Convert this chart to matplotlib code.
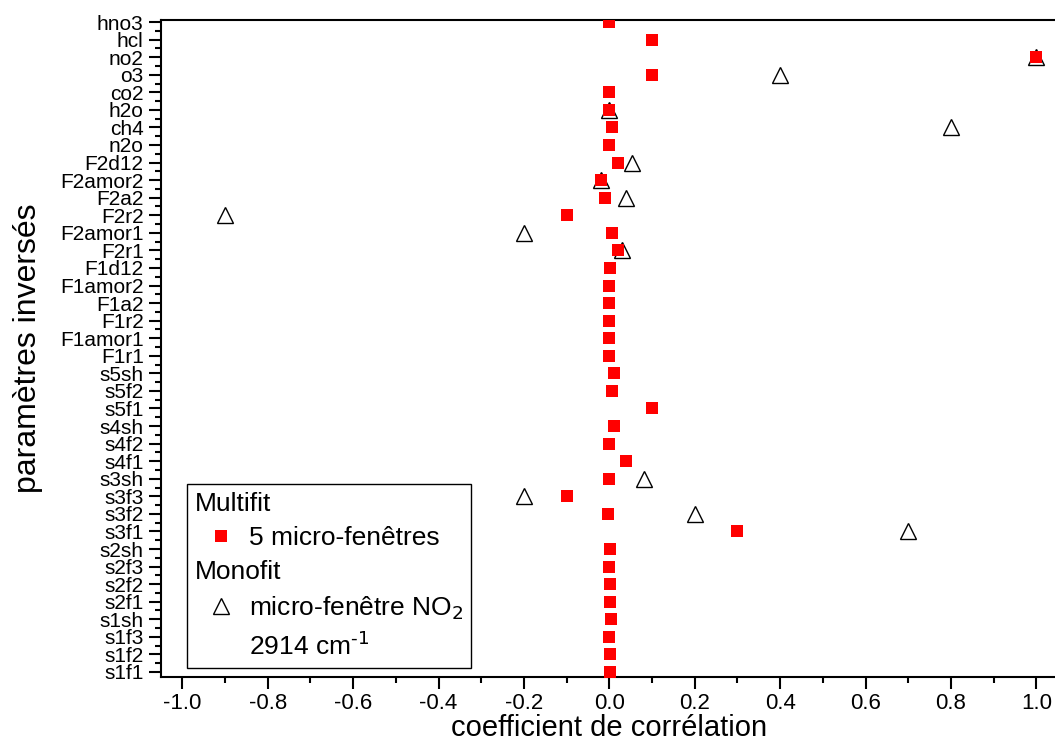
import numpy as np
import matplotlib
matplotlib.use("Agg")
from matplotlib import pyplot as plt
from matplotlib.lines import Line2D
from matplotlib.ticker import MultipleLocator

plt.rcParams['font.family'] = ['Liberation Sans', 'DejaVu Sans']

parametres = ['hno3', 'hcl', 'no2', 'o3', 'co2', 'h2o', 'ch4', 'n2o',
              'F2d12', 'F2amor2', 'F2a2', 'F2r2', 'F2amor1', 'F2r1',
              'F1d12', 'F1amor2', 'F1a2', 'F1r2', 'F1amor1', 'F1r1',
              's5sh', 's5f2', 's5f1', 's4sh', 's4f2', 's4f1',
              's3sh', 's3f3', 's3f2', 's3f1', 's2sh', 's2f3', 's2f2', 's2f1',
              's1sh', 's1f3', 's1f2', 's1f1']

# multifit, 5 micro-fenetres
corrMulti = [0.0, 0.1, 1.0, 0.1, 0.0, 0.0, 0.007, 0.0,
             0.02, -0.02, -0.011, -0.1, 0.005, 0.02,
             0.001, 0.0, -0.002, -0.002, 0.0, -0.001,
             0.011, 0.006, 0.1, 0.011, 0.0, 0.04,
             -0.001, -0.1, -0.004, 0.3, 0.002, -0.001, 0.001, 0.002,
             0.004, -0.001, 0.001, 0.002]

# monofit, micro-fenetre NO2 2914 cm-1 (nan = parametre non ajuste)
nan = np.nan
corrMono = [nan, nan, 1.0, 0.4, nan, 0.0, 0.8, nan,
            0.053, -0.02, 0.04, -0.9, -0.2, 0.03,
            nan, nan, nan, nan, nan, nan,
            nan, nan, nan, nan, nan, nan,
            0.08, -0.2, 0.2, 0.7, nan, nan, nan, nan,
            nan, nan, nan, nan]

xticks = [-1.0, -0.8, -0.6, -0.4, -0.2, 0.0, 0.2, 0.4, 0.6, 0.8, 1.0]
xtickLabels = ['-1.0', '-0.8', '-0.6', '-0.4', '-0.2', '0.0', '0.2', '0.4', '0.6', '0.8', '1.0']

pos = np.arange(len(parametres))

fig = plt.figure(figsize=(10.55, 7.47), dpi=100)
ax = fig.add_axes([0.1526, 0.0941, 0.85, 0.879])

ax.plot(corrMono, pos, linestyle='none', marker='^', markersize=11,
        markerfacecolor='white', markeredgecolor='black', markeredgewidth=1.0, zorder=2)
ax.plot(corrMulti, pos, linestyle='none', marker='s', markersize=9,
        color='#ff0000', markeredgewidth=0, zorder=3)

ax.set_xlim(-1.05, 1.05)
ax.set_ylim(37.27, -0.11)
ax.set_yticks(pos)
ax.set_yticklabels(parametres, fontsize=15)
ax.yaxis.set_minor_locator(MultipleLocator(0.5))
ax.set_xticks(xticks)
ax.set_xticklabels(xtickLabels, fontsize=16)
ax.xaxis.set_minor_locator(MultipleLocator(0.1))

ax.tick_params(which='major', direction='out', length=8.5, width=1.5, pad=3)
ax.tick_params(axis='y', which='major', pad=4)
ax.tick_params(which='minor', direction='out', length=4.3, width=1.5)
for s in ax.spines.values():
    s.set_linewidth(1.5)

ax.set_xlabel("coefficient de corrélation", fontsize=21, labelpad=0)
ax.set_ylabel("paramètres inversés", fontsize=23, labelpad=12)

vide = Line2D([], [], linestyle='none')
carre = Line2D([], [], linestyle='none', marker='s', markersize=9, color='#ff0000',
               markeredgewidth=0)
tri = Line2D([], [], linestyle='none', marker='^', markersize=11, markerfacecolor='white',
             markeredgecolor='black', markeredgewidth=1.0)
leg = ax.legend([vide, carre, vide, tri, vide],
                ['Multifit', '5 micro-fenêtres', 'Monofit', 'micro-fenêtre NO$_2$',
                 r'2914 cm$^{\text{-1}}$'],
                loc='lower left', bbox_to_anchor=(0.029, 0.013), borderaxespad=0,
                fontsize=19, fancybox=False, framealpha=1, edgecolor='black',
                handlelength=2.0, handletextpad=0.05, borderpad=0.3, labelspacing=0.38)
leg.get_frame().set_linewidth(1.0)
rows = leg._legend_handle_box.get_children()[0].get_children()
for i in (0, 2):
    rows[i].get_children()[0].width = 0
    rows[i].sep = 0

fig.savefig("out.png", dpi=100)
